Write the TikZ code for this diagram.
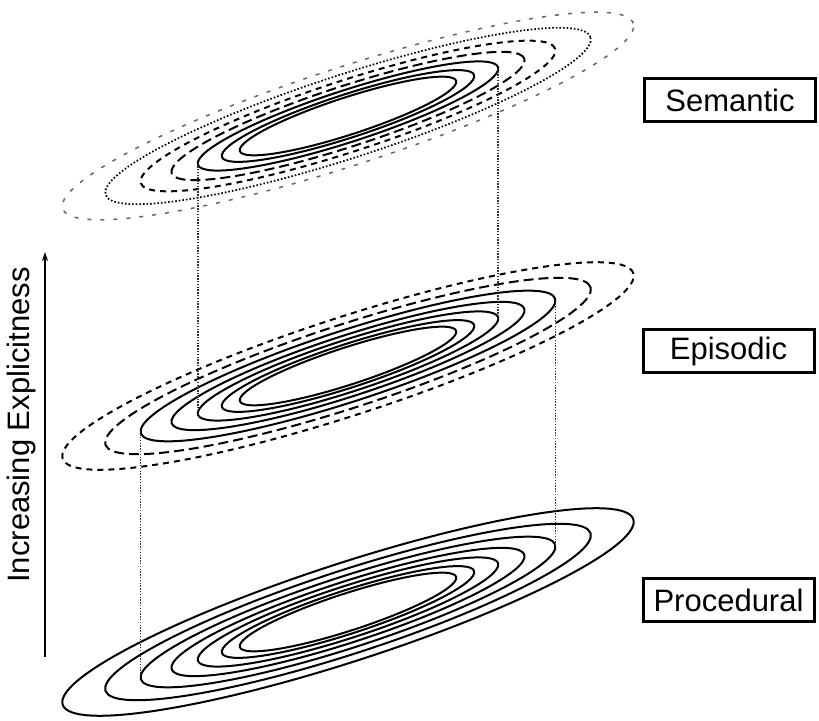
\documentclass[tikz,border=0pt]{standalone}
\usepackage{fontspec}
\setmainfont{Liberation Sans}
\usepackage{tikz}
\usetikzlibrary{arrows.meta}

\newcommand{\lblfont}{\fontsize{31}{36}\selectfont}

\begin{document}
\begin{tikzpicture}[
    x=1pt, y=1pt,
    ring/.style={line width=2pt},
    longring/.style={ring, dash pattern=on 10pt off 5pt},
    shortring/.style={ring, dash pattern=on 6pt off 5pt},
    dotring/.style={ring, line width=1.7pt, dash pattern=on 1.6pt off 2pt},
    sparsering/.style={ring, line width=1.5pt, black!60, dash pattern=on 4pt off 9pt},
    projline/.style={line width=1.6pt, black!80, dash pattern=on 1.4pt off 1.4pt},
    levelbox/.style={draw, line width=3pt, rectangle, minimum width=171pt, minimum height=43pt, inner sep=0pt, align=center, font=\lblfont}
]
    \useasboundingbox (0,0) rectangle (819,720);

    % Semantic level
    \begin{scope}[shift={(348,604)}, rotate=18]
        \foreach \s/\st in {1/sparsering, .85/dotring, .726/shortring, .618/longring, .526/ring, .442/ring, .379/ring}
            \draw[\st] (0,0) ellipse [x radius=300*\s, y radius=49*\s];
        \coordinate (sem5L) at (176.96:157.8 and 25.8);
        \coordinate (sem5R) at (-3.04:157.8 and 25.8);
    \end{scope}

    % Episodic level
    \begin{scope}[shift={(348,354)}, rotate=18]
        \foreach \s/\st in {1/shortring, .85/longring, .726/ring, .618/ring, .526/ring, .442/ring, .379/ring}
            \draw[\st] (0,0) ellipse [x radius=300*\s, y radius=49*\s];
        \coordinate (epi5L) at (176.96:157.8 and 25.8);
        \coordinate (epi5R) at (-3.04:157.8 and 25.8);
        \coordinate (epi3L) at (176.96:217.8 and 35.6);
        \coordinate (epi3R) at (-3.04:217.8 and 35.6);
    \end{scope}

    % Procedural level
    \begin{scope}[shift={(348,108)}, rotate=18]
        \foreach \s in {1, .85, .726, .618, .526, .442, .379}
            \draw[ring] (0,0) ellipse [x radius=300*\s, y radius=49*\s];
        \coordinate (pro3L) at (176.96:217.8 and 35.6);
        \coordinate (pro3R) at (-3.04:217.8 and 35.6);
    \end{scope}

    % Projections between levels
    \draw[projline] (sem5L) -- (epi5L);
    \draw[projline] (sem5R) -- (epi5R);
    \draw[projline] (epi3L) -- (pro3L);
    \draw[projline] (epi3R) -- (pro3R);

    % Level labels
    \node[levelbox] (semantic) at (730,619.5) {Semantic};
    \node[levelbox] (episodic) at (728.5,368.5) {Episodic};
    \node[levelbox] (procedural) at (728.5,120) {Procedural};

    % Axis
    \coordinate (axisfoot) at (45,63);
    \coordinate (axistip) at (45,468);
    \draw[line width=2.2pt, -{Stealth[length=9pt, width=6pt]}] (axisfoot) -- (axistip);
    \node[rotate=90, font=\lblfont] (axislabel) at (21,295) {Increasing Explicitness};

\end{tikzpicture}
\end{document}
